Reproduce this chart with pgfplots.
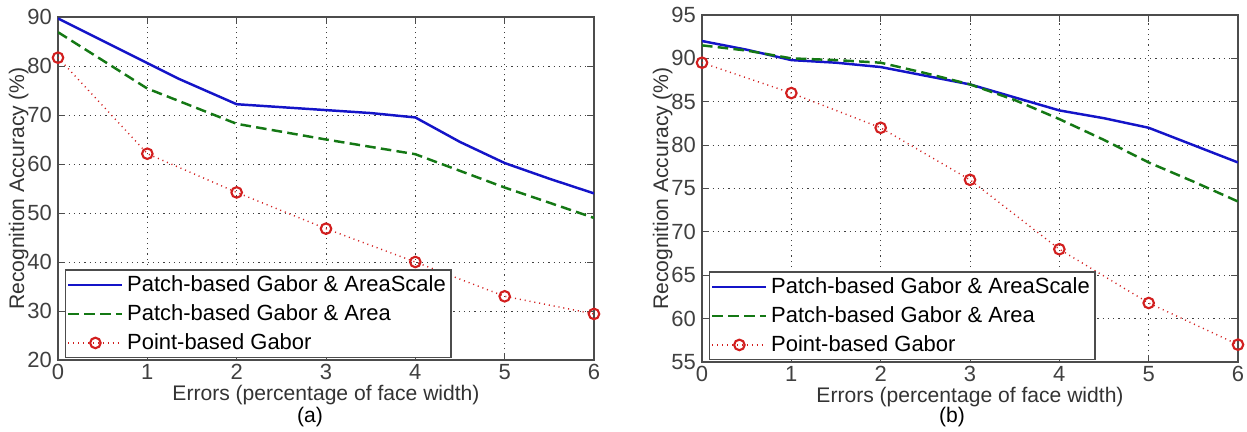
\documentclass[border=0pt]{standalone}
\usepackage{fontspec}
\setmainfont{Liberation Sans}
\usepackage{pgfplots}
\pgfplotsset{compat=1.18}

\definecolor{mblue}{RGB}{20,20,200}
\definecolor{mgreen}{RGB}{20,120,20}
\definecolor{mred}{RGB}{210,30,30}

\pgfplotsset{
  matlabstyle/.style={
    scale only axis,
    xmin=0, xmax=6,
    xtick={0,1,2,3,4,5,6},
    grid=major,
    grid style={black!75, line width=0.5pt, dash pattern=on 0.7pt off 2.3pt},
    axis line style={black!70, line width=0.9pt},
    tick align=inside,
    major tick length=4pt,
    tick style={black!70, line width=0.5pt},
    /pgf/number format/assume math mode=true,
    ticklabel style={font=\fontsize{12.5}{14}\selectfont, text=black!75},
    xticklabel style={yshift=1pt},
    label style={font=\fontsize{12}{14}\selectfont, text=black!80},
    xlabel={Errors (percentage of face width)},
    ylabel={Recognition Accuracy (\%)},
    xlabel style={yshift=4pt},
    ylabel style={yshift=-7.5pt},
    legend cell align=left,
    legend style={
      at={(0.013,0.006)}, anchor=south west,
      draw=black!70, line width=0.9pt,
      font=\fontsize{12.5}{14}\selectfont,
      inner sep=1pt, row sep=2pt,
      cells={line width=0.5pt},
    },
    legend image code/.code={
      \draw[mark repeat=2, mark phase=2, ##1]
        plot coordinates {(0cm,0cm) (0.54cm,0cm) (1.08cm,0cm)};
    },
  },
  blueline/.style={mblue, line width=1.4pt, no marks},
  greenline/.style={mgreen, line width=1.4pt, dash pattern=on 6pt off 3pt, no marks},
  redline/.style={mred, line width=0.8pt, dash pattern=on 0.6pt off 2.2pt,
    mark=o, mark size=3pt, mark options={solid, line width=1.2pt}},
}

\begin{document}
\begin{tikzpicture}
\useasboundingbox (0,0) rectangle (24.94cm,8.64cm);

% (a)
\begin{axis}[
  matlabstyle,
  at={(1.16cm,1.44cm)}, anchor=south west,
  width=10.72cm, height=6.86cm,
  ymin=20, ymax=90,
  ytick={20,30,40,50,60,70,80,90},
]
\addplot[blueline] coordinates {
  (0,89.7) (1,80.6) (1.35,77.4) (2,72.2) (2.5,71.6) (3,71.0) (3.5,70.4)
  (4,69.5) (4.5,64.5) (5,60.2) (5.5,57.0) (6,54.0)};
\addplot[greenline] coordinates {
  (0,86.9) (1,75.4) (2,68.2) (3,65.0) (4,62.0) (5,55.2) (6,49.0)};
\addplot[redline] coordinates {
  (0,81.7) (1,62.1) (2,54.2) (3,46.8) (4,40.0) (5,33.0) (6,29.4)};
\legend{Patch-based Gabor \& AreaScale, Patch-based Gabor \& Area, Point-based Gabor}
\end{axis}
\node[font=\fontsize{12}{14}\selectfont] at (6.2cm,0.3cm) {(a)};

% (b)
\begin{axis}[
  matlabstyle,
  at={(14.04cm,1.40cm)}, anchor=south west,
  width=10.72cm, height=6.94cm,
  ymin=55, ymax=95,
  ytick={55,60,65,70,75,80,85,90,95},
]
\addplot[blueline] coordinates {
  (0,92.0) (0.5,91.0) (1,89.8) (1.5,89.5) (2,89.0) (2.5,88.0) (3,87.0)
  (3.5,85.5) (4,84.0) (4.5,83.1) (5,82.0) (5.5,80.0) (6,78.0)};
\addplot[greenline] coordinates {
  (0,91.5) (0.5,90.9) (1,90.0) (1.5,89.8) (2,89.5) (2.5,88.3) (3,87.0)
  (3.5,85.2) (4,83.0) (4.5,80.6) (5,78.0) (5.5,75.8) (6,73.5)};
\addplot[redline] coordinates {
  (0,89.5) (1,86.0) (2,82.0) (3,76.0) (4,68.0) (5,61.8) (6,57.0)};
\legend{Patch-based Gabor \& AreaScale, Patch-based Gabor \& Area, Point-based Gabor}
\end{axis}
\node[font=\fontsize{12}{14}\selectfont] at (19.04cm,0.3cm) {(b)};
\end{tikzpicture}
\end{document}
